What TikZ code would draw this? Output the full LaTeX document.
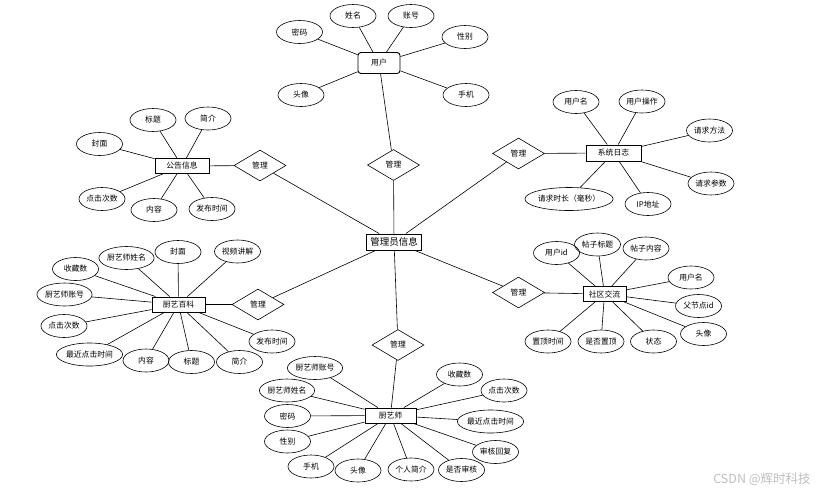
\documentclass[tikz,border=0pt]{standalone}
\usepackage{fontspec}
\setmainfont{Noto Sans CJK SC}
\usetikzlibrary{shapes.geometric}

\begin{document}
\begin{tikzpicture}[x=1pt,y=-1pt,line width=.6pt,
    every node/.style={font=\fontsize{7.8}{9}\selectfont},
    ent/.style={draw,rectangle,line width=.9pt,minimum height=15pt,inner sep=2pt},
    attr/.style={draw,ellipse,minimum width=46pt,minimum height=23pt,inner xsep=0pt,inner ysep=1pt},
    rel/.style={draw,diamond,minimum width=52pt,minimum height=31pt,inner sep=0pt}]
  \useasboundingbox (0,0) rectangle (834,496);

  % 实体
  \node[ent,minimum width=55pt,minimum height=16pt,font=\fontsize{9.5}{11}\selectfont] (gly) at (394,242) {管理员信息};
  \node[ent,rounded corners=3pt,minimum width=42pt,minimum height=21pt] (yh) at (379,63) {用户};
  \node[ent,minimum width=54pt] (gg) at (182,166) {公告信息};
  \node[ent,minimum width=53pt] (cy) at (178.5,304.5) {厨艺百科};
  \node[ent,minimum width=55pt,minimum height=16pt] (xt) at (613.5,153) {系统日志};
  \node[ent,minimum width=43pt] (sq) at (604.5,294) {社区交流};
  \node[ent,minimum width=51pt] (cs) at (390.5,415.5) {厨艺师};

  % 联系
  \node[rel] (r1) at (393.5,165) {管理};
  \node[rel] (r2) at (260,165.5) {管理};
  \node[rel] (r3) at (258,304.5) {管理};
  \node[rel] (r4) at (518.5,153.5) {管理};
  \node[rel] (r5) at (518.5,292.5) {管理};
  \node[rel] (r6) at (398,345) {管理};
  \foreach \r/\e in {r1/yh,r2/gg,r3/cy,r4/xt,r5/sq,r6/cs} {
    \draw (gly)--(\r);
    \draw (\r)--(\e);
  }

  % 属性
  \foreach \x/\y/\t [count=\i] in {353/16/姓名,411/16/账号,299.5/32/密码,465/37/性别,301/95/头像,466/95/手机}
    {\node[attr] (yh\i) at (\x,\y) {\t}; \draw (yh)--(yh\i);}
  \foreach \x/\y/\t [count=\i] in {153/120/标题,208/118.5/简介,99.5/144/封面,102/199/点击次数,154/210/内容,212/209/发布时间}
    {\node[attr] (gg\i) at (\x,\y) {\t}; \draw (gg)--(gg\i);}
  \foreach \x/\y/\t [count=\i] in {126.5/258/厨艺师姓名,178/252/封面,237.5/251.5/视频讲解,75.5/269/收藏数,64.5/294.5/厨艺师账号,64/326/点击次数,89.5/354.5/最近点击时间,146/360.5/内容,191.5/362/标题,239.5/362/简介,272/341.5/发布时间}
    {\node[attr] (cy\i) at (\x,\y) {\t}; \draw (cy)--(cy\i);}
  \foreach \x/\y/\t [count=\i] in {576/102/用户名,642/101.5/用户操作,709.5/130.5/请求方法,711/183.5/请求参数,648/204/IP地址,569/199/请求时长（毫秒）}
    {\node[attr] (xt\i) at (\x,\y) {\t}; \draw (xt)--(xt\i);}
  \foreach \x/\y/\t [count=\i] in {556.5/253/用户id,597.5/244.5/帖子标题,646/248.5/帖子内容,691/277.5/用户名,698.5/306/父节点id,703.5/334/头像,548/341.5/置顶时间,601/341.5/是否置顶,653.5/341.5/状态}
    {\node[attr] (sq\i) at (\x,\y) {\t}; \draw (sq)--(sq\i);}
  \foreach \x/\y/\t [count=\i] in {315/368/厨艺师账号,287/390.5/厨艺师姓名,287.5/416/密码,287.5/441.5/性别,311/466.5/手机,358/470.5/头像,411/469.5/个人简介,461.5/470/是否审核,495.5/452/审核回复,490.5/421.5/最近点击时间,504/390.5/点击次数,459.5/374.5/收藏数}
    {\node[attr] (cs\i) at (\x,\y) {\t}; \draw (cs)--(cs\i);}

  \node[font=\fontsize{12.5}{14}\selectfont,text=gray!50] (wm) at (762,479) {CSDN @辉时科技};
\end{tikzpicture}
\end{document}
